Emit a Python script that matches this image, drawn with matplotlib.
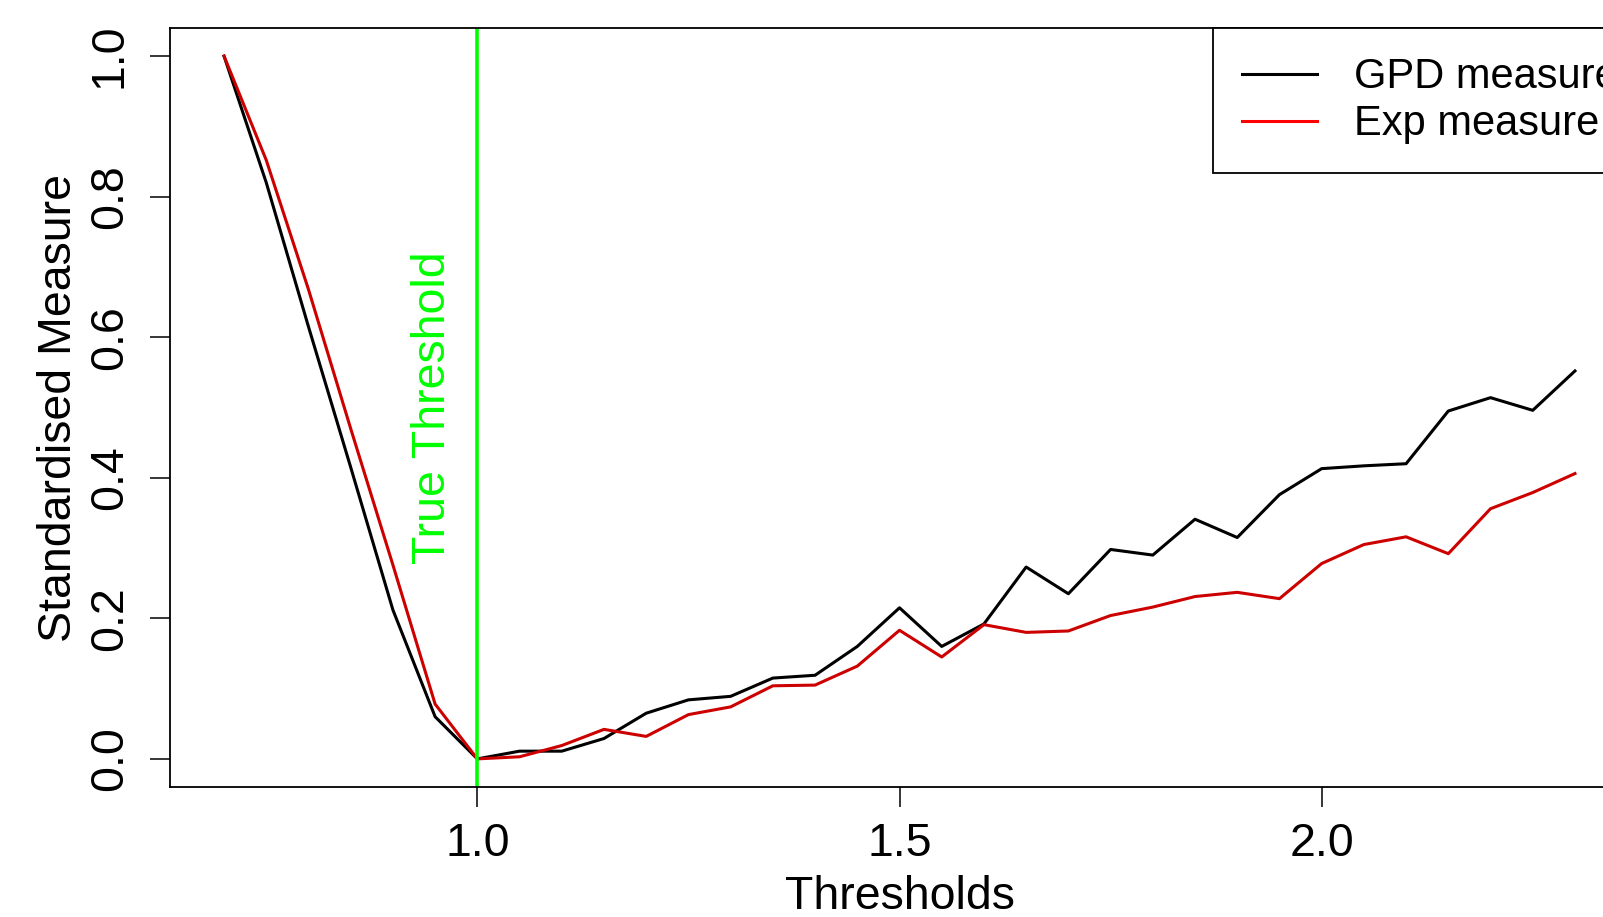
import matplotlib
matplotlib.use("Agg")
import matplotlib.pyplot as plt
import numpy as np

plt.rcParams["font.family"] = ["Liberation Sans", "DejaVu Sans"]

# threshold grid and the two standardised measures
thresholds = np.round(np.arange(0.70, 2.301, 0.05), 2)
gpd_measure = [1.000, 0.820, 0.615, 0.415, 0.212, 0.060, 0.000,
               0.011, 0.011, 0.029, 0.065, 0.084, 0.089, 0.115, 0.119,
               0.160, 0.215, 0.160, 0.192, 0.273, 0.235, 0.298, 0.290,
               0.341, 0.315, 0.376, 0.413, 0.417, 0.420, 0.495, 0.514,
               0.496, 0.552]
exp_measure = [1.000, 0.852, 0.668, 0.470, 0.276, 0.078, 0.000,
               0.003, 0.019, 0.042, 0.032, 0.063, 0.074, 0.104, 0.105,
               0.132, 0.183, 0.145, 0.191, 0.180, 0.182, 0.204, 0.216,
               0.231, 0.237, 0.228, 0.278, 0.305, 0.316, 0.292, 0.356,
               0.379, 0.406]
true_threshold = 1.0
xticks = [1.0, 1.5, 2.0]
yticks = [0.0, 0.2, 0.4, 0.6, 0.8, 1.0]

W, H = 1603, 917
fig = plt.figure(figsize=(W / 100, H / 100), dpi=100)
ax = fig.add_axes([170 / W, 1 - 787 / H, (1629 - 170) / W, (787 - 28) / H])

ax.plot(thresholds, gpd_measure, color="black", lw=2.2, label="GPD measure")
ax.plot(thresholds, exp_measure, color="#CD0000", lw=2.2, label="Exp measure")
ax.axvline(true_threshold, color="#00FF00", lw=2.6)
ax.text(0.948, 0.5, "True Threshold", color="#00FF00", fontsize=33.5,
        rotation=90, ha="center", va="center")

ax.set_xlim(0.636, 2.364)
ax.set_ylim(-0.04, 1.04)
ax.set_xticks(xticks)
ax.set_xticklabels([f"{t:.1f}" for t in xticks])
ax.set_yticks(yticks)
ax.set_yticklabels([f"{t:.1f}" for t in yticks], rotation=90, va="center")
ax.tick_params(axis="both", labelsize=33.5, length=14.5, width=1.1)
ax.tick_params(axis="x", pad=11)
ax.tick_params(axis="y", pad=13)
for s in ax.spines.values():
    s.set_linewidth(1.3)

ax.set_xlabel("Thresholds", fontsize=33.5, labelpad=6.5)
ax.set_ylabel("Standardised Measure", fontsize=33.5, labelpad=5)

# legend anchored just past the right edge, like the clipped box it mirrors
leg = ax.legend(loc="upper right", bbox_to_anchor=(1.0123, 1), borderaxespad=0,
                fontsize=30, fancybox=False, framealpha=1, edgecolor="black",
                handlelength=1.8, handletextpad=0.89, borderpad=0.7,
                labelspacing=0.17)
leg.get_frame().set_linewidth(1.3)
leg.get_lines()[1].set_color("red")

fig.savefig("out.png", dpi=100)
